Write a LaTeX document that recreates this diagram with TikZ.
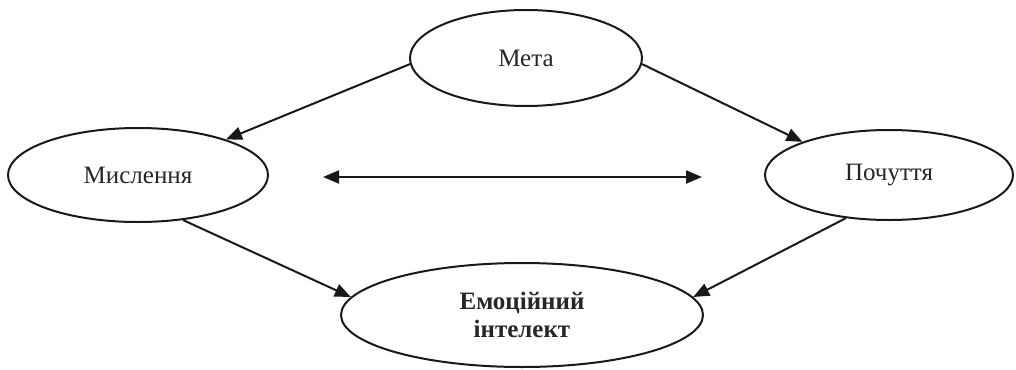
\documentclass[tikz,border=0pt]{standalone}
\usepackage{fontspec}
\setmainfont{Liberation Serif}
\usetikzlibrary{arrows.meta,shapes.geometric}
\begin{document}
\begin{tikzpicture}[x=1pt,y=-1pt,
  oval/.style={draw=black!90, line width=2pt, ellipse, inner sep=0pt, font=\fontsize{25}{28}\selectfont, text=black!85},
  conn/.style={line width=2pt, draw=black!90, -{Triangle[length=16pt,width=13pt]}},
  biconn/.style={line width=2pt, draw=black!90, {Triangle[length=16pt,width=13pt]}-{Triangle[length=16pt,width=13pt]}}]
\useasboundingbox (0,0) rectangle (1016,369);
\node[oval, minimum width=232pt, minimum height=96pt] (meta) at (526,58) {Мета};
\node[oval, minimum width=260pt, minimum height=94pt] (mysl) at (138,175) {Мислення};
\node[oval, minimum width=248pt, minimum height=90pt] (poch) at (889,175) {Почуття};
\node[oval, minimum width=362pt, minimum height=104pt, align=center, font=\fontsize{25}{28}\selectfont\bfseries] (ei) at (522,315) {Емоційний\\інтелект};
\coordinate (la) at (323,177);
\coordinate (ra) at (702,177);
\draw[conn] (meta.183) -- (mysl.22);
\draw[conn] (meta.-3) -- (poch.159);
\draw[conn] (mysl.-45) -- (ei.174);
\draw[conn] (poch.-135) -- (ei.6);
\draw[biconn] (la) -- (ra);
\end{tikzpicture}
\end{document}
